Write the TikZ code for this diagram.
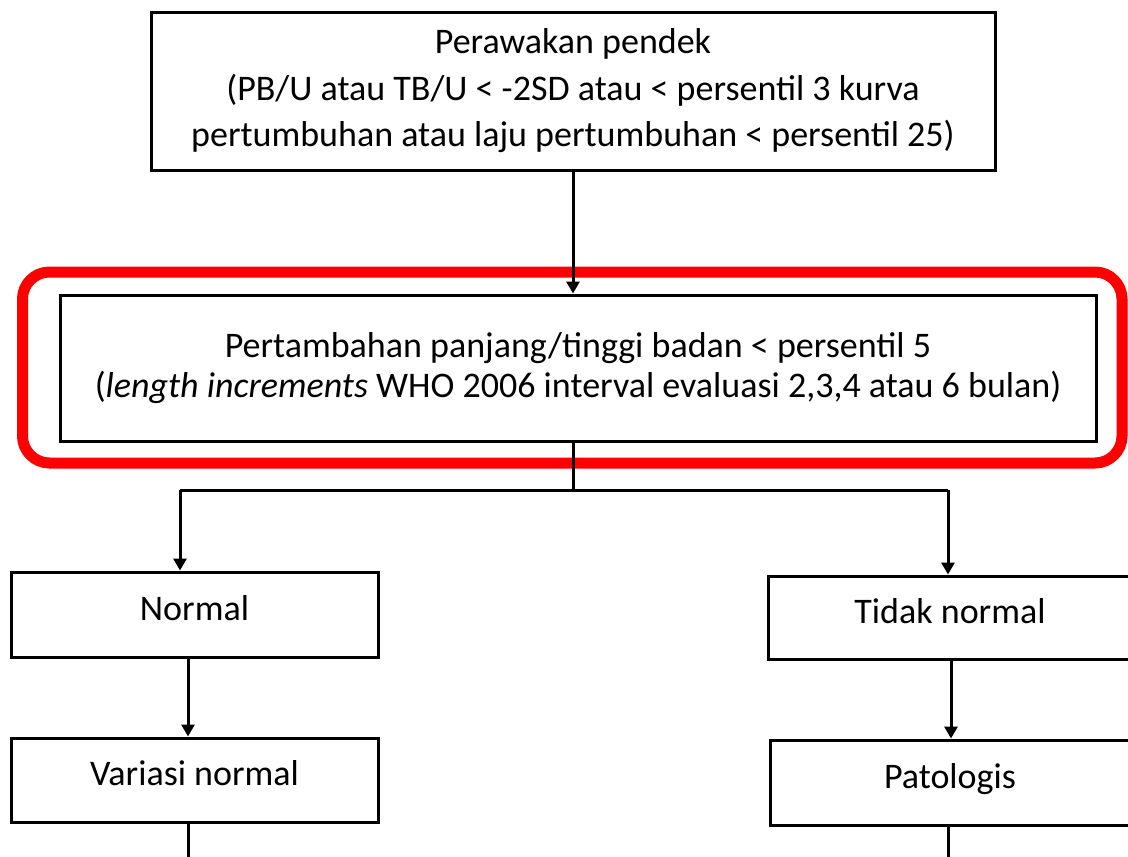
\documentclass[tikz,border=0pt]{standalone}
\usepackage{fontspec}
\setmainfont{Carlito}
\usetikzlibrary{arrows.meta}
\begin{document}
\begin{tikzpicture}[x=1pt,y=-1pt,
  box/.style={draw=black,line width=3pt,fill=white,inner sep=0pt,align=center,
    font=\fontsize{36}{46}\selectfont},
  small/.style={box,text height=23pt,text depth=12pt},
  conn/.style={line width=3pt,black},
  arr/.style={conn,-{Triangle[width=13pt,length=12pt]}}]
\useasboundingbox (0,0) rectangle (1128,857);
\clip (0,0) rectangle (1128,857);
\node[draw=red,line width=11pt,rounded corners=27pt,minimum width=1099.5pt,minimum height=191pt,inner sep=0pt] (hl) at (572.25,367.5) {};
\node[box,minimum width=844pt,minimum height=158pt,font=\fontsize{36}{46.5}\selectfont] (top) at (573,91)
  {Perawakan pendek\\(PB/U atau TB/U < -2SD atau < persentil 3 kurva\\pertumbuhan atau laju pertumbuhan < persentil 25)};
\node[box,minimum width=1036pt,minimum height=146pt,font=\fontsize{36}{40}\selectfont] (inc) at (578,368)
  {Pertambahan panjang/tinggi badan < persentil 5\\(\textit{length increments} WHO 2006 interval evaluasi 2,3,4 atau 6 bulan)};
\node[small,minimum width=367pt,minimum height=85pt] (nor) at (194.5,614.5) {Normal};
\node[small,minimum width=367pt,minimum height=84pt] (var) at (194.5,780) {Variasi normal};
\node[small,minimum width=364pt,minimum height=83pt] (tid) at (950,617.5) {Tidak normal};
\node[small,minimum width=360pt,minimum height=85pt] (pat) at (950,782.5) {Patologis};
\coordinate (j) at (573,490);
\coordinate (jl) at (180,490);
\coordinate (jr) at (948,490);
\coordinate (vend) at (188,870);
\coordinate (pend) at (948,870);
\draw[arr] (top.south) -- (top.south |- inc.north);
\draw[conn] (j |- inc.south) -- (j);
\draw[conn] (jl) -- (jr);
\draw[arr] (jl) -- (jl |- nor.north);
\draw[arr] (jr) -- (jr |- tid.north);
\draw[arr] (188,0 |- nor.south) -- (188,0 |- var.north);
\draw[arr] (951,0 |- tid.south) -- (951,0 |- pat.north);
\draw[conn] (vend |- var.south) -- (vend);
\draw[conn] (pend |- pat.south) -- (pend);
\end{tikzpicture}
\end{document}
